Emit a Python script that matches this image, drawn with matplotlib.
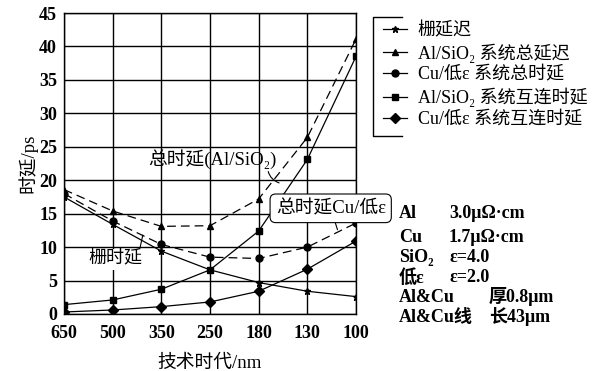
import numpy as np
import matplotlib
matplotlib.use("Agg")
import matplotlib.pyplot as plt
from matplotlib.lines import Line2D

plt.rcParams['font.family'] = ['Liberation Serif', 'DejaVu Serif', 'Noto Sans CJK SC']
plt.rcParams['axes.unicode_minus'] = False

nodes = ['650', '500', '350', '250', '180', '130', '100']

gate_delay = [17.5, 13.4, 9.4, 6.6, 4.7, 3.4, 2.6]
al_total = [18.6, 15.4, 13.1, 13.2, 17.2, 26.4, 41.1]
cu_total = [18.0, 13.9, 10.4, 8.5, 8.3, 10.0, 13.6]
al_inter = [1.4, 2.1, 3.7, 6.6, 12.4, 23.1, 38.5]
cu_inter = [0.3, 0.6, 1.1, 1.8, 3.4, 6.7, 10.9]

labels = ['栅延迟', 'Al/SiO₂ 系统总延迟', 'Cu/低ε 系统总时延',
          'Al/SiO₂ 系统互连时延', 'Cu/低ε 系统互连时延']

W, H = 596, 371
fig = plt.figure(figsize=(W / 100, H / 100), dpi=100)
ax = fig.add_axes([64 / W, 1 - 314 / H, (356 - 64) / W, (314 - 13) / H])

x = np.arange(len(nodes))
kw = dict(color='black', lw=0.9, markersize=5)
ax.plot(x, gate_delay, '-', marker='*', label=labels[0], **kw)
ax.plot(x, al_total, '--', marker='^', label=labels[1], dashes=(7, 4), **kw)
ax.plot(x, cu_total, '--', marker='o', label=labels[2], dashes=(7, 4), **kw)
ax.plot(x, al_inter, '-', marker='s', label=labels[3], **kw)
ax.plot(x, cu_inter, '-', marker='D', label=labels[4], **kw)

ax.set_xlim(0, len(nodes) - 1)
ax.set_ylim(0, 45)
ax.set_xticks(x)
ax.set_xticklabels(nodes)
ax.set_yticks(range(0, 46, 5))
ax.grid(True, color='black', lw=1.0)
ax.tick_params(axis='y', length=0, labelsize=13, pad=5)
ax.tick_params(axis='x', length=0, labelsize=13, pad=8)
for t in ax.get_xticklabels() + ax.get_yticklabels():
    t.set_fontweight('bold')
for s in ax.spines.values():
    s.set_linewidth(1.0)

ax.set_xlabel('技术时代/nm', fontsize=13.5, labelpad=9)
ax.set_ylabel('时延/ps', fontsize=13.5, labelpad=1)

# annotations
ax.annotate('总时延(Al/SiO₂)', xy=(4.42, 19.6), xytext=(3.05, 23.2),
            fontsize=13.5, ha='center', va='center',
            arrowprops=dict(arrowstyle='-', lw=0.8, color='black',
                            connectionstyle='arc3,rad=0.3',
                            shrinkA=0, shrinkB=0,
                            relpos=(0.93, 0.0)))
ax.annotate('总时延Cu/低ε', xy=(5.62, 12.6), xytext=(5.48, 15.8),
            fontsize=13.5, ha='center', va='center', annotation_clip=False,
            bbox=dict(boxstyle='round,pad=0.3', fc='white', ec='black', lw=0.8),
            arrowprops=dict(arrowstyle='-', lw=0.8, color='black',
                            shrinkA=0, shrinkB=0))
ax.annotate('栅时延', xy=(1.62, 11.8), xytext=(1.05, 8.2),
            fontsize=13, ha='center', va='center',
            bbox=dict(boxstyle='square,pad=0.1', fc='white', ec='none'),
            arrowprops=dict(arrowstyle='-', lw=0.8, color='black',
                            shrinkA=1, shrinkB=0, relpos=(0.95, 1.0)))

# legend
leg = fig.legend(loc='upper left', bbox_to_anchor=(376 / W, 1 - 15 / H),
                 frameon=False, fontsize=13, handlelength=1.3,
                 handletextpad=0.6, labelspacing=0.22, borderaxespad=0)
for h in leg.legend_handles:
    h.set_linestyle('-')
    h.set_markersize(5)

def fline(xs, ys):
    fig.add_artist(Line2D([v / W for v in xs], [1 - v / H for v in ys],
                          color='black', lw=1.0, transform=fig.transFigure))

fline([402, 373, 373, 402], [17, 17, 136, 136])

# material parameters
params = [('Al', '3.0μΩ·cm', 449, 213), ('Cu', '1.7μΩ·cm', 449, 237),
          ('SiO₂', 'ε=4.0', 449, 258), ('低ε', 'ε=2.0', 449, 278),
          ('Al&Cu', '厚0.8μm', 489, 297), ('Al&Cu线', '长43μm', 489, 317)]
for name, val, xv, yy in params:
    fig.text(399 / W, 1 - yy / H, name, fontsize=13, fontweight='bold',
             va='center', ha='left')
    fig.text(xv / W, 1 - yy / H, val, fontsize=13, fontweight='bold',
             va='center', ha='left')

fig.savefig('out.png', dpi=100)
